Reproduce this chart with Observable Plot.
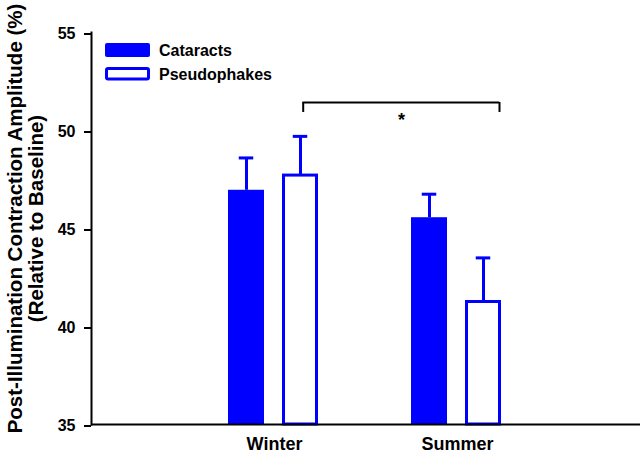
<!DOCTYPE html>
<html>
<head>
<meta charset="utf-8">
<script src="https://cdn.jsdelivr.net/npm/d3@7"></script>
<script src="https://cdn.jsdelivr.net/npm/@observablehq/plot@0.6"></script>
<style>
  body { margin: 0; background: #fff; }
  #chart { position: relative; width: 641px; height: 454px; }
</style>
</head>
<body>
<div id="chart"></div>
<script>
// ---- data ----
const seasons = ["Winter", "Summer"];
const seriesNames = ["Cataracts", "Pseudophakes"];
const cataractMeans = [46.95, 45.55];
const cataractErrors = [1.65, 1.2];
const pseudophakeMeans = [47.7, 41.25];
const pseudophakeErrors = [2.0, 2.25];
const yTicks = [35, 40, 45, 50, 55];
const yTitleLines = ["Post-Illumination Contraction Amplitude (%)", "(Relative to Baseline)"];
const sigFrom = "Winter";
const sigTo = "Summer";
const sigBracketY = 51.43;
const sigLegY = 50.92;
const sigLabelY = 50.5;
const sigLabel = "*";

// ---- tables ----
const blue = "#0000ff";
const cat = seasons.map((s, i) => ({season: s, mean: cataractMeans[i], err: cataractErrors[i]}));
const pse = seasons.map((s, i) => ({season: s, mean: pseudophakeMeans[i], err: pseudophakeErrors[i]}));
const sig = [{from: sigFrom, to: sigTo, y: sigBracketY, leg: sigLegY, ly: sigLabelY, label: sigLabel}];

const plot = Plot.plot({
  width: 641,
  height: 454,
  marginLeft: 91,
  marginRight: 1,
  marginTop: 32,
  marginBottom: 30,
  style: {fontFamily: "'Liberation Sans', Arial, sans-serif", background: "#fff", color: "#000"},
  x: {domain: seasons, paddingInner: 0.5, paddingOuter: 0.75},
  y: {domain: [35, 55]},
  marks: [
    Plot.barY(cat, {x: "season", y1: 35, y2: "mean", fill: blue, insetRight: 56}),
    Plot.barY(pse, {x: "season", y1: 35, y2: "mean", fill: "#fff", stroke: blue, strokeWidth: 3, insetLeft: 55.5, insetRight: 3.5}),
    Plot.ruleX(cat, {x: "season", y1: "mean", y2: d => d.mean + d.err, stroke: blue, strokeWidth: 3, dx: -28}),
    Plot.ruleX(pse, {x: "season", y1: "mean", y2: d => d.mean + d.err, stroke: blue, strokeWidth: 3, dx: 26}),
    Plot.tickY(cat, {x: "season", y: d => d.mean + d.err, stroke: blue, strokeWidth: 3, insetLeft: 10.75, insetRight: 66.75}),
    Plot.tickY(pse, {x: "season", y: d => d.mean + d.err, stroke: blue, strokeWidth: 3, insetLeft: 64.75, insetRight: 12.75}),
    // significance bracket
    Plot.ruleY(sig, {y: "y", x1: "from", x2: "to", insetLeft: 74.5, insetRight: 3.75, stroke: "#000", strokeWidth: 2}),
    Plot.ruleX(sig, {x: "from", y1: "leg", y2: "y", dx: 28.7, stroke: "#000", strokeWidth: 2}),
    Plot.ruleX(sig, {x: "to", y1: "leg", y2: "y", dx: 42, stroke: "#000", strokeWidth: 2}),
    Plot.text(sig, {x: "to", y: "ly", text: "label", dx: -56, fontSize: 18, fontWeight: "bold", fill: "#000"}),
    // axes
    Plot.ruleY([35], {stroke: "#000", strokeWidth: 2}),
    Plot.frame({anchor: "left", stroke: "#000", strokeWidth: 2}),
    Plot.axisY({ticks: yTicks, tickSize: 7, tickPadding: 9, strokeWidth: 2, fontSize: 16, fontWeight: "bold", label: null, dy: 1.5}),
    Plot.axisX({tickSize: 0, tickPadding: 13, fontSize: 18, fontWeight: "bold", label: null}),
    Plot.text([yTitleLines.join("\n")], {frameAnchor: "left", text: d => d, rotate: -90, dx: -66, dy: -10, textAnchor: "middle", lineAnchor: "middle", fontSize: 20.5, fontWeight: "bold", lineHeight: 1.05, fill: "#000"})
  ]
});

document.getElementById("chart").appendChild(plot);

// ---- legend (inside the plot area, top-left) ----
const svg = d3.select(plot);
const lg = svg.append("g")
  .attr("font-family", "'Liberation Sans', Arial, sans-serif")
  .attr("font-weight", "bold")
  .attr("font-size", 16)
  .attr("text-anchor", "start");
seriesNames.forEach((name, i) => {
  const g = lg.append("g").attr("transform", `translate(105,${43 + i * 24})`);
  if (i === 0) {
    g.append("rect").attr("x", 0).attr("y", 0).attr("width", 45).attr("height", 14).attr("rx", 2).attr("fill", blue);
  } else {
    g.append("rect").attr("x", 1.5).attr("y", 1.5).attr("width", 42).attr("height", 10.5).attr("rx", 1.5).attr("fill", "#fff").attr("stroke", blue).attr("stroke-width", 3);
  }
  g.append("text").attr("x", 54).attr("y", 7).attr("dy", "0.36em").attr("text-anchor", "start").attr("fill", "#000").text(name);
});
</script>
</body>
</html>
